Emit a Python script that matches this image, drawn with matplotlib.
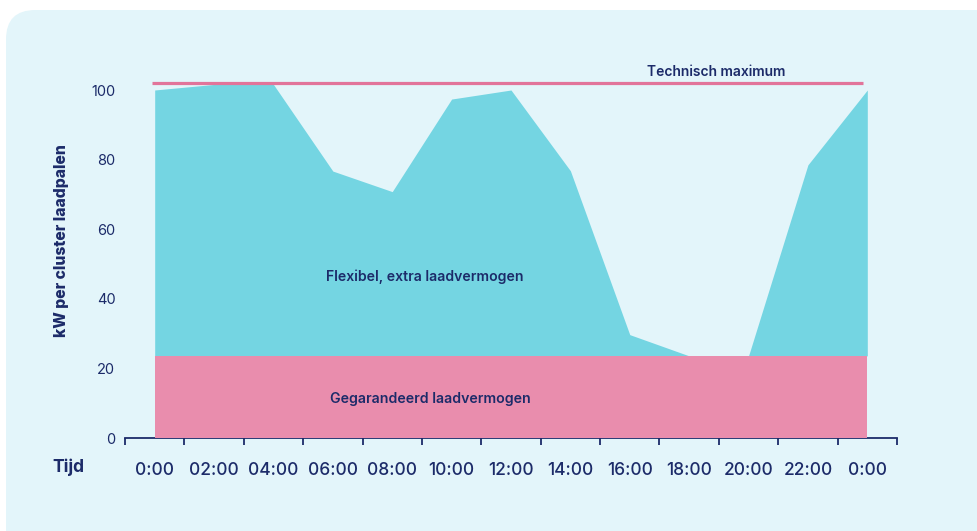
import matplotlib
matplotlib.use("Agg")
import matplotlib.pyplot as plt
from matplotlib.patches import FancyBboxPatch

# ---- data ----
hours = [0, 2, 4, 6, 8, 10, 12, 14, 16, 18, 20, 22, 24]
total_kw = [100, 101.6, 101.6, 76.7, 70.8, 97.4, 100, 76.8, 29.7, 23.6, 23.6, 78.5, 100]
guaranteed_kw = 23.6
technical_max = 102
tick_labels = ["0:00", "02:00", "04:00", "06:00", "08:00", "10:00", "12:00",
               "14:00", "16:00", "18:00", "20:00", "22:00", "0:00"]
y_ticks = [0, 20, 40, 60, 80, 100]

NAVY = "#1C2B69"
CYAN = "#74D5E2"
PINK = "#E98DAD"
LINE_PINK = "#E2749A"
CARD = "#E3F5FA"

plt.rcParams['font.family'] = ['Inter', 'DejaVu Sans']

fig = plt.figure(figsize=(9.77, 5.31), dpi=100)
fig.patch.set_facecolor("white")

# card background
card = FancyBboxPatch((6 / 977, -30 / 531), 1.2, (531 - 10 + 30) / 531,
                      boxstyle="round,pad=0,rounding_size=0.03",
                      transform=fig.transFigure, facecolor=CARD, edgecolor="none",
                      mutation_aspect=977 / 531, zorder=-10)
fig.patches.append(card)

ax = fig.add_axes([125 / 977, (531 - 438) / 531, 772 / 977, 110 * 3.48 / 531])
ax.set_zorder(1)
ax.set_facecolor("none")
ax.set_xlim(-1, 25)
ax.set_ylim(0, 110)

g = [guaranteed_kw] * len(hours)
ax.fill_between(hours, g, total_kw, color=CYAN, linewidth=0, zorder=2)
ax.fill_between(hours, 0, g, color=PINK, linewidth=0, zorder=3)
ax.plot([-0.1, 23.85], [technical_max, technical_max], color=LINE_PINK, lw=2.3,
        solid_capstyle="butt", zorder=4)

# axes styling
for s in ["top", "right", "left"]:
    ax.spines[s].set_visible(False)
ax.spines["bottom"].set_color(NAVY)
ax.spines["bottom"].set_linewidth(1.3)

ax.set_xticks([h - 1 for h in hours] + [25])
ax.set_xticklabels([])
ax.tick_params(axis="x", which="major", length=5, width=1.3, color=NAVY, direction="out")
ax.set_xticks(hours, minor=True)
ax.set_xticklabels(tick_labels, minor=True)
ax.tick_params(axis="x", which="minor", length=0, pad=17, labelsize=12.5,
               labelcolor=NAVY)
for lab in ax.get_xticklabels(minor=True):
    lab.set_fontweight("medium")

ax.set_yticks(y_ticks)
ax.tick_params(axis="y", length=0, pad=7, labelsize=10.5, labelcolor=NAVY)

# annotations
ax.text(18.9, 105.3, "Technisch maximum", ha="center", va="center",
        fontsize=10, color=NAVY, fontweight="semibold")
ax.text(9.1, 46.3, "Flexibel, extra laadvermogen", ha="center", va="center",
        fontsize=10.1, color=NAVY, fontweight="semibold", zorder=5)
ax.text(9.3, 11.2, "Gegarandeerd laadvermogen", ha="center", va="center",
        fontsize=10.2, color=NAVY, fontweight="semibold", zorder=5)

fig.text(62 / 977, 1 - 241 / 531, "kW per cluster laadpalen", rotation=90,
         ha="center", va="center", fontsize=11.3, color=NAVY, fontweight="heavy")
fig.text(68 / 977, 1 - 467 / 531, "Tijd", ha="center", va="center",
         fontsize=12.5, color=NAVY, fontweight="bold")

fig.savefig("out.png", dpi=100, facecolor="white")
